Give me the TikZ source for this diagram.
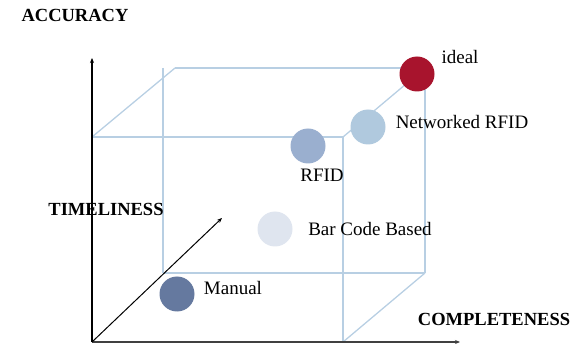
\documentclass[tikz,border=0pt]{standalone}
\usepackage{fontspec}
\setmainfont{Liberation Serif}
\usetikzlibrary{arrows.meta}
\definecolor{cubeline}{HTML}{B8CFE3}
\definecolor{idealred}{HTML}{A8142D}
\definecolor{netblue}{HTML}{B0C9DE}
\definecolor{rfidblue}{HTML}{9AAFCF}
\definecolor{barblue}{HTML}{DFE5EF}
\definecolor{manblue}{HTML}{65799F}
\begin{document}
\begin{tikzpicture}[
            x=1pt, y=1pt,
            font=\fontsize{19}{21}\selectfont,
            ponto/.style={shape=circle, minimum size=35pt, inner sep=0pt},
            aresta/.style={draw=cubeline, line width=1.3pt},
            eixo/.style={-{Stealth[length=5pt, width=4pt]}},
            titulo/.style={font=\fontsize{18.5}{20}\selectfont\bfseries},
        ]
        \useasboundingbox (0, 0) rectangle (584, 343);

        % cantos do cubo
        \coordinate (o) at (92, 1);
        \coordinate (ftl) at (92, 206);
        \coordinate (ftr) at (343, 206);
        \coordinate (fbr) at (343, 1);
        \coordinate (btl) at (175, 275);
        \coordinate (blt) at (163, 275);
        \coordinate (btr) at (425, 275);
        \coordinate (bbr) at (425, 70);
        \coordinate (bbl) at (163, 70);
        \coordinate (ytip) at (92, 285);
        \coordinate (xtip) at (460, 1);
        \coordinate (ztip) at (222, 125);

        \draw[aresta] (ftl) -- (ftr);
        \draw[aresta] (ftr) -- (fbr);
        \draw[aresta] (ftl) -- (btl);
        \draw[aresta] (btl) -- (btr);
        \draw[aresta] (blt) -- (bbl);
        \draw[aresta] (bbl) -- (bbr);
        \draw[aresta] (btr) -- (bbr);
        \draw[aresta] (bbr) -- (fbr);
        \draw[aresta] (ftr) -- (btr);

        % eixos
        \draw[eixo, line width=2pt] (o) -- (ytip);
        \draw[eixo, line width=1.5pt, black!75] (o) -- (xtip);
        \draw[eixo, line width=1pt] (o) -- (ztip);

        \node[titulo] (accuracy) at (75, 328) {ACCURACY};
        \node[titulo] (timeliness) at (106, 134) {TIMELINESS};
        \node[titulo] (completeness) at (494, 24) {COMPLETENESS};

        \node[ponto, fill=idealred] (ideal) at (417, 269) {};
        \node[ponto, fill=netblue] (net) at (368, 216) {};
        \node[ponto, fill=rfidblue] (rfid) at (308, 197) {};
        \node[ponto, fill=barblue] (bar) at (275, 114) {};
        \node[ponto, fill=manblue] (manual) at (177, 49) {};

        \node (lideal) at (460, 286) {ideal};
        \node (lnet) at (462, 221) {Networked RFID};
        \node (lrfid) at (322, 168) {RFID};
        \node (lbar) at (370, 114) {Bar Code Based};
        \node (lmanual) at (233, 55) {Manual};

    \end{tikzpicture}
\end{document}
